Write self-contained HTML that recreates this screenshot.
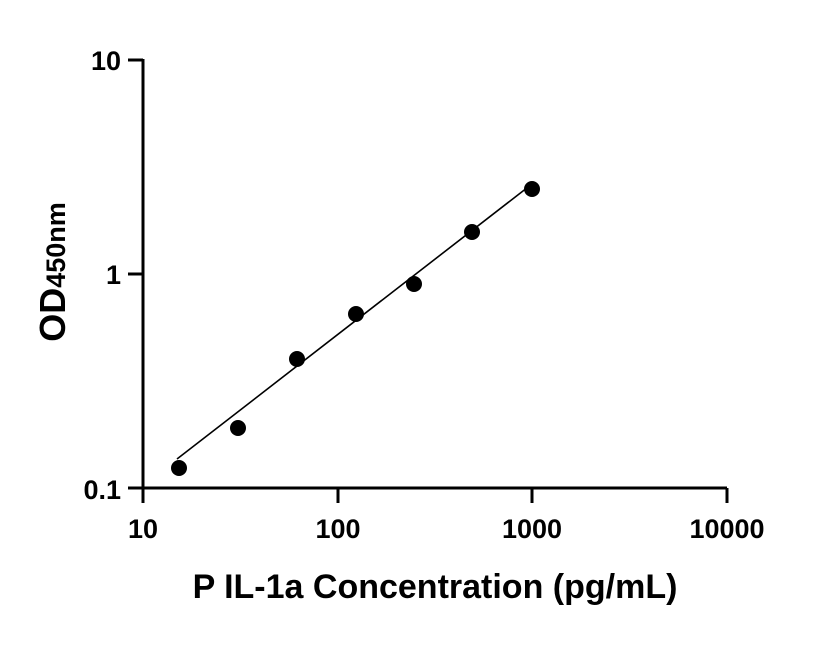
<!DOCTYPE html>
<html><head><style>body{margin:0;background:#fff}</style></head><body>
<svg width="816" height="640" xmlns="http://www.w3.org/2000/svg" font-family="'Liberation Sans',sans-serif" font-weight="bold">
<g stroke="#000" stroke-width="3" fill="none">
<path d="M143,59 V503"/>
<path d="M128,488 H727"/>
<path d="M128,60 H143 M128,274 H143"/>
<path d="M143,488 V503 M338,488 V503 M532,488 V503 M727,488 V503"/>
</g>
<g font-size="27" text-anchor="end">
<text x="121" y="70">10</text>
<text x="121" y="284">1</text>
<text x="121" y="499">0.1</text>
</g>
<g font-size="27" text-anchor="middle">
<text x="143" y="538">10</text>
<text x="338" y="538">100</text>
<text x="532" y="538">1000</text>
<text x="727" y="538">10000</text>
</g>
<text x="435" y="598" font-size="34" text-anchor="middle">P IL-1a Concentration (pg/mL)</text>
<text transform="translate(65,272) rotate(-90)" font-size="36" text-anchor="middle">OD<tspan font-size="27">450nm</tspan></text>
<line x1="177" y1="459" x2="532" y2="184" stroke="#000" stroke-width="1.6"/>
<g fill="#000">
<circle cx="179" cy="468" r="8"/>
<circle cx="238" cy="428" r="8"/>
<circle cx="297" cy="359" r="8"/>
<circle cx="356" cy="314" r="8"/>
<circle cx="414" cy="284" r="8"/>
<circle cx="472" cy="232" r="8"/>
<circle cx="532" cy="189" r="8"/>
</g>
</svg>
</body></html>
